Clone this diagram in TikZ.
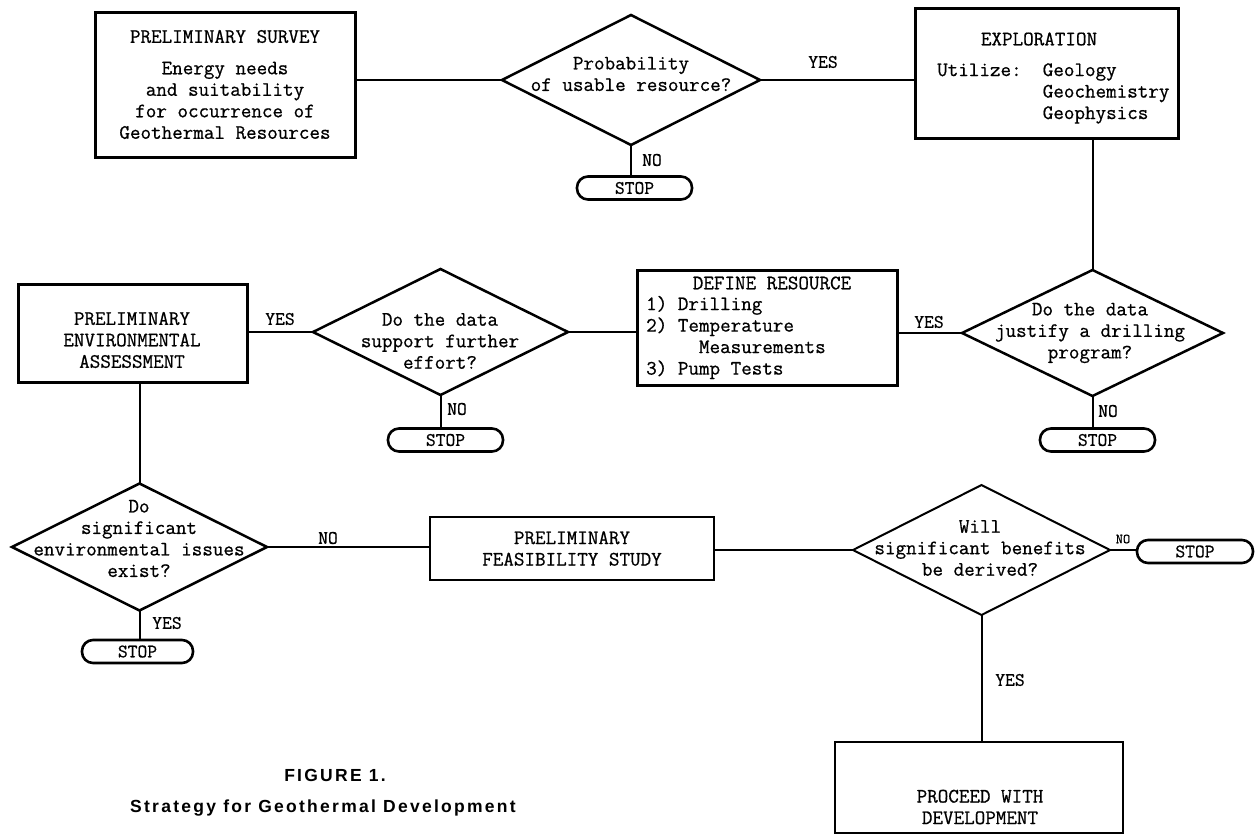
\documentclass[tikz,border=0pt]{standalone}
\usepackage{fontspec}
\newfontfamily\capfont[LetterSpace=13]{Liberation Sans}
\newfontfamily\twfont[FakeBold=0.7]{Latin Modern Mono}
\usetikzlibrary{shapes.geometric}
\begin{document}
\begin{tikzpicture}[x=1pt,y=-1pt,
  every node/.style={font=\twfont\fontsize{20.5}{21.5}\selectfont},
  box/.style={draw, line width=3pt, inner sep=0pt, outer sep=0pt, align=center},
  thinbox/.style={box, line width=2pt},
  dia/.style={diamond, draw, line width=2.5pt, inner sep=0pt, outer sep=0pt},
  stopbox/.style={draw, line width=2.6pt, rounded corners=11pt, inner sep=0pt, outer sep=0pt, minimum width=115pt, minimum height=23pt, font=\twfont\fontsize{19}{20}\selectfont},
  conn/.style={line width=2pt},
  txt/.style={align=center, inner sep=0pt},
  lbl/.style={inner sep=0pt, font=\twfont\fontsize{19}{20}\selectfont},
  captxt/.style={inner sep=0pt, font=\capfont\bfseries\fontsize{17.5}{20}\selectfont}]
\fill[white] (0,0) rectangle (1258,838);
\useasboundingbox (0,0) rectangle (1258,838);

% top row
\node[box, minimum width=260pt, minimum height=145pt] (survey) at (225,84.5) {PRELIMINARY SURVEY\\[10pt]Energy needs\\and suitability\\for occurrence of\\Geothermal Resources};
\node[dia, minimum width=258pt, minimum height=130pt] (d1) at (631,80) {};
\node[txt] (d1t) at (631,74) {Probability\\of usable resource?};
\node[stopbox] (stop1) at (634.5,188) {STOP};
\node[box, minimum width=263pt, minimum height=130pt] (explor) at (1046.5,73) {};
\node[txt] (explt) at (1039,39) {EXPLORATION};
\node[txt, align=left, anchor=west] (explu) at (937,93.5) {Utilize:\ \ Geology\\\phantom{Utilize:\ \ }Geochemistry\\\phantom{Utilize:\ \ }Geophysics};

% middle row
\node[box, minimum width=229pt, minimum height=98pt] (env) at (132.5,333) {};
\node[txt] (envt) at (132,340) {PRELIMINARY\\ENVIRONMENTAL\\ASSESSMENT};
\node[dia, minimum width=255pt, minimum height=126pt] (d2) at (440.5,332) {};
\node[txt] (d2t) at (440,341) {Do the data\\support further\\effort?};
\node[stopbox] (stop2) at (445.5,440) {STOP};
\node[box, minimum width=260pt, minimum height=115pt] (define) at (767,327.5) {};
\node[txt] (deft) at (772,283) {DEFINE RESOURCE};
\node[txt, align=left, anchor=west] (defl) at (646,337.5) {1) Drilling\\2) Temperature\\\phantom{2) Te}Measurements\\3) Pump Tests};
\node[dia, minimum width=261pt, minimum height=126pt] (d3) at (1092.5,333) {};
\node[txt] (d3t) at (1090,333) {Do the data\\justify a drilling\\program?};
\node[stopbox] (stop3) at (1097.5,440) {STOP};

% bottom row
\node[dia, minimum width=255pt, minimum height=127pt] (d4) at (139.5,547) {};
\node[txt] (d4t) at (139,538.5) {Do\\significant\\environmental issues\\exist?};
\node[stopbox, minimum width=111pt] (stop4) at (137.5,651.5) {STOP};
\node[thinbox, minimum width=284pt, minimum height=63pt] (feas) at (572,548.5) {PRELIMINARY\\FEASIBILITY STUDY};
\node[dia, line width=2pt, minimum width=257pt, minimum height=130pt] (d5) at (981.5,550) {};
\node[txt] (d5t) at (980,548) {Will\\significant benefits\\be derived?};
\node[stopbox, minimum width=116pt] (stop5) at (1195,551.5) {STOP};
\node[thinbox, minimum width=288pt, minimum height=91pt] (proc) at (979,787.5) {};
\node[txt] (proct) at (980,807) {PROCEED WITH\\DEVELOPMENT};

% caption
\node[captxt] (fig) at (335,775) {FIGURE 1.};
\node[captxt] (strat) at (323,808) {Strategy for Geothermal Development};

% labels
\node[lbl] (yes1) at (823,62) {YES};
\node[lbl] (no1) at (652,160) {NO};
\node[lbl] (yes2) at (280,319) {YES};
\node[lbl] (no2) at (457,409) {NO};
\node[lbl] (yes3) at (929,322) {YES};
\node[lbl] (no3) at (1108,411) {NO};
\node[lbl] (no4) at (328,538) {NO};
\node[lbl] (yes4) at (167,623) {YES};
\node[lbl, font=\twfont\fontsize{14}{15}\selectfont] (no5) at (1123,539) {NO};
\node[lbl] (yes5) at (1010,680) {YES};

% connectors
\draw[conn] (survey.east |- d1.west) -- (d1.west);
\draw[conn] (d1.east) -- (d1.east -| explor.west);
\draw[conn] (d1.south) -- (d1.south |- stop1.north);
\draw[conn] (explor.south -| d3.north) -- (d3.north);
\draw[conn] (d3.south) -- (d3.south |- stop3.north);
\draw[conn] (define.east |- d3.west) -- (d3.west);
\draw[conn] (d2.east) -- (d2.east -| define.west);
\draw[conn] (env.east |- d2.west) -- (d2.west);
\draw[conn] (d2.south) -- (d2.south |- stop2.north);
\draw[conn] (env.south -| d4.north) -- (d4.north);
\draw[conn] (d4.east) -- (d4.east -| feas.west);
\draw[conn] (d4.south) -- (d4.south |- stop4.north);
\draw[conn] (feas.east |- d5.west) -- (d5.west);
\draw[conn] (d5.east) -- (d5.east -| stop5.west);
\draw[conn] (d5.south) -- (d5.south |- proc.north);
\end{tikzpicture}
\end{document}
